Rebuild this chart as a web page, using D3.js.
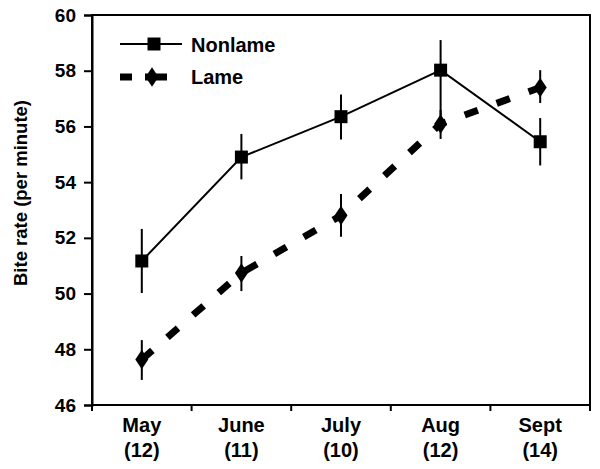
<!DOCTYPE html>
<html>
<head>
<meta charset="utf-8">
<script src="https://cdn.jsdelivr.net/npm/d3@7"></script>
<style>
  body { margin: 0; background: #fff; }
  text { font-family: "Liberation Sans", Arial, sans-serif; font-weight: bold; fill: #000; }
</style>
</head>
<body>
<div id="chart"></div>
<script>
// data
var months = ["May", "June", "July", "Aug", "Sept"];
var counts = ["(12)", "(11)", "(10)", "(12)", "(14)"];
var nonlame = [51.17, 54.9, 56.35, 58.02, 55.45];
var nonlameLo = [50.02, 54.1, 55.53, 56.0, 54.6];
var nonlameHi = [52.32, 55.73, 57.15, 59.1, 56.3];
var lame = [47.63, 50.74, 52.8, 56.09, 57.4];
var lameLo = [46.9, 50.09, 52.04, 55.55, 56.84];
var lameHi = [48.33, 51.35, 53.57, 56.59, 58.02];
var yTicks = [46, 48, 50, 52, 54, 56, 58, 60];

var width = 600, height = 469;
var margin = {top: 15, right: 10, bottom: 64, left: 92};

var svg = d3.select("#chart").append("svg")
  .attr("width", width)
  .attr("height", height);

var x = d3.scaleBand().domain(months).range([margin.left, width - margin.right]);
var y = d3.scaleLinear().domain([46, 60]).range([height - margin.bottom, margin.top]);

// frame
svg.append("rect")
  .attr("x", margin.left).attr("y", margin.top)
  .attr("width", width - margin.right - margin.left)
  .attr("height", height - margin.bottom - margin.top)
  .attr("fill", "none").attr("stroke", "#000").attr("stroke-width", 2);

// y axis
var yAxis = svg.append("g")
  .attr("transform", "translate(" + margin.left + ",0)")
  .call(d3.axisLeft(y).tickValues(yTicks).tickSize(8).tickPadding(8));
yAxis.select(".domain").attr("stroke-width", 2);
yAxis.selectAll(".tick line").attr("stroke-width", 2);
yAxis.selectAll(".tick text").attr("font-size", 19).attr("font-family", "Liberation Sans, Arial, sans-serif");

// x axis: ticks at band edges
var xg = svg.append("g").attr("transform", "translate(0," + y(46) + ")");
xg.append("line")
  .attr("x1", margin.left).attr("x2", width - margin.right)
  .attr("stroke", "#000").attr("stroke-width", 2);
var edges = months.map(function(m) { return x(m); }).concat([width - margin.right]);
xg.selectAll("line.tk").data(edges).enter().append("line")
  .attr("class", "tk")
  .attr("x1", function(d) { return d; }).attr("x2", function(d) { return d; })
  .attr("y1", 0).attr("y2", 6)
  .attr("stroke", "#000").attr("stroke-width", 2);
months.forEach(function(m, i) {
  var cx = x(m) + x.bandwidth() / 2;
  xg.append("text").attr("x", cx).attr("y", 27).attr("text-anchor", "middle")
    .attr("font-size", 20).text(m);
  xg.append("text").attr("x", cx).attr("y", 52).attr("text-anchor", "middle")
    .attr("font-size", 20).text(counts[i]);
});

// y title
svg.append("text")
  .attr("transform", "translate(27," + ((margin.top + height - margin.bottom) / 2 - 17) + ") rotate(-90)")
  .attr("text-anchor", "middle")
  .attr("font-size", 18.5)
  .text("Bite rate (per minute)");

function cx(i) { return x(months[i]) + x.bandwidth() / 2; }

var line = d3.line().x(function(d, i) { return cx(i); }).y(function(d) { return y(d); });

// error bars
function errBars(lo, hi) {
  svg.append("g").selectAll("line").data(lo).enter().append("line")
    .attr("x1", function(d, i) { return cx(i); })
    .attr("x2", function(d, i) { return cx(i); })
    .attr("y1", function(d) { return y(d); })
    .attr("y2", function(d, i) { return y(hi[i]); })
    .attr("stroke", "#000").attr("stroke-width", 2);
}
errBars(nonlameLo, nonlameHi);
errBars(lameLo, lameHi);

// lame dashed line
svg.append("path").datum(lame)
  .attr("d", line)
  .attr("fill", "none").attr("stroke", "#000")
  .attr("stroke-width", 7).attr("stroke-dasharray", "14,20");

// nonlame solid line
svg.append("path").datum(nonlame)
  .attr("d", line)
  .attr("fill", "none").attr("stroke", "#000").attr("stroke-width", 2);

var sq = d3.symbol().type(d3.symbolSquare).size(169);
var dm = d3.symbol().type(d3.symbolDiamond).size(110);

svg.append("g").selectAll("path").data(nonlame).enter().append("path")
  .attr("d", sq)
  .attr("transform", function(d, i) { return "translate(" + cx(i) + "," + y(d) + ")"; })
  .attr("fill", "#000");

svg.append("g").selectAll("path").data(lame).enter().append("path")
  .attr("d", dm)
  .attr("transform", function(d, i) { return "translate(" + cx(i) + "," + y(d) + ") scale(1.15,1)"; })
  .attr("fill", "#000");

// legend
var lg = svg.append("g");
lg.append("line").attr("x1", 120).attr("x2", 182).attr("y1", 44).attr("y2", 44)
  .attr("stroke", "#000").attr("stroke-width", 2);
lg.append("path").attr("d", sq).attr("transform", "translate(154,44)").attr("fill", "#000");
lg.append("text").attr("x", 191).attr("y", 52).attr("font-size", 20).text("Nonlame");

lg.append("line").attr("x1", 120).attr("x2", 167).attr("y1", 77).attr("y2", 77)
  .attr("stroke", "#000").attr("stroke-width", 7).attr("stroke-dasharray", "12,13,22");
lg.append("path").attr("d", dm).attr("transform", "translate(152,77) scale(1.15,1)").attr("fill", "#000");
lg.append("text").attr("x", 191).attr("y", 84).attr("font-size", 20).text("Lame");
</script>
</body>
</html>
